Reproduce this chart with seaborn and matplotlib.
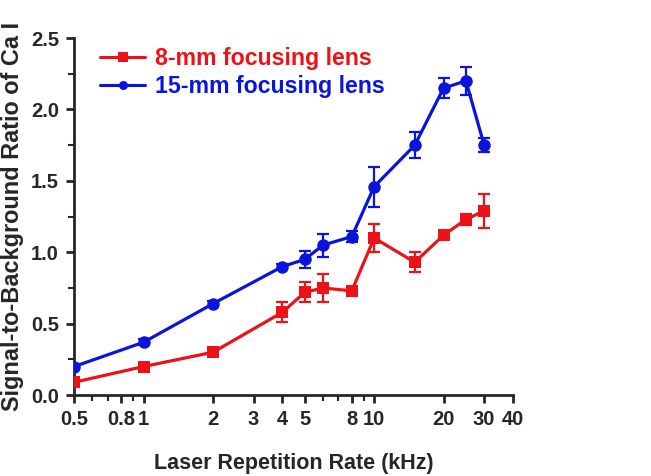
import matplotlib
matplotlib.use("Agg")
import matplotlib.pyplot as plt
import matplotlib.ticker as mticker
import numpy as np
import pandas as pd
import seaborn as sns

# Repetition rates (kHz)
rate = [0.5, 1, 2, 4, 5, 6, 8, 10, 15, 20, 25, 30]

# Signal-to-background ratio and error for each lens
sbr_8mm = [0.09, 0.20, 0.30, 0.58, 0.72, 0.75, 0.73, 1.10, 0.93, 1.12, 1.23, 1.29]
err_8mm = [0.03, 0.02, 0.02, 0.07, 0.07, 0.10, 0.02, 0.10, 0.07, 0.02, 0.04, 0.12]
sbr_15mm = [0.20, 0.37, 0.64, 0.90, 0.95, 1.05, 1.11, 1.46, 1.75, 2.15, 2.20, 1.75]
err_15mm = [0.02, 0.02, 0.02, 0.02, 0.06, 0.08, 0.04, 0.14, 0.09, 0.07, 0.10, 0.05]

series_names = ["8-mm focusing lens", "15-mm focusing lens"]
series_colors = ["#ec1218", "#0a14dc"]
series_markers = ["s", "o"]

xticks = [0.5, 0.8, 1, 2, 3, 4, 5, 8, 10, 20, 30, 40]
xtick_labels = ["0.5", "0.8", "1", "2", "3", "4", "5", "8", "10", "20", "30", "40"]
yticks = [0.0, 0.5, 1.0, 1.5, 2.0, 2.5]

df = pd.concat([
    pd.DataFrame({"rate": rate, "sbr": sbr_8mm, "err": err_8mm, "lens": series_names[0]}),
    pd.DataFrame({"rate": rate, "sbr": sbr_15mm, "err": err_15mm, "lens": series_names[1]}),
])

sns.set_style("ticks")
plt.rcParams["font.family"] = ["Liberation Sans", "DejaVu Sans"]
plt.rcParams["font.weight"] = "bold"

fig = plt.figure(figsize=(6.51, 4.76), dpi=100)
ax = fig.add_axes([0.114, 0.17, 0.674, 0.75])

sns.lineplot(data=df, x="rate", y="sbr", hue="lens", style="lens",
             palette=dict(zip(series_names, series_colors)),
             markers=dict(zip(series_names, series_markers)),
             dashes=False, linewidth=2.3, markersize=9, markeredgewidth=0,
             ax=ax, legend=False, zorder=3)

for name, color in zip(series_names, series_colors):
    sub = df[df["lens"] == name]
    ax.errorbar(sub["rate"], sub["sbr"], yerr=sub["err"], fmt="none",
                ecolor=color, elinewidth=1.6, capsize=4.5, capthick=1.6, zorder=2)

ax.set_xscale("log")
ax.set_xlim(0.5, 40)
ax.set_ylim(0, 2.5)
ax.xaxis.set_major_locator(mticker.FixedLocator(xticks))
ax.xaxis.set_major_formatter(mticker.FixedFormatter(xtick_labels))
ax.xaxis.set_minor_locator(mticker.FixedLocator([0.6, 0.7, 0.9, 6, 7, 9]))
ax.xaxis.set_minor_formatter(mticker.NullFormatter())
ax.set_yticks(yticks)
ax.yaxis.set_major_formatter(mticker.FormatStrFormatter("%.1f"))
ax.yaxis.set_minor_locator(mticker.MultipleLocator(0.25))

sns.despine(ax=ax)
for side in ["left", "bottom"]:
    ax.spines[side].set_linewidth(2)
ax.tick_params(which="major", direction="out", length=6, width=2, labelsize=14.5, pad=5)
ax.tick_params(which="minor", direction="out", length=4, width=1.5)
for lab in ax.get_xticklabels() + ax.get_yticklabels():
    lab.set_fontweight("bold")

ax.set_xlabel("Laser Repetition Rate (kHz)", fontsize=15.5, fontweight="bold", labelpad=17)
ax.set_ylabel("Signal-to-Background Ratio of Ca I", fontsize=16.9, fontweight="bold", labelpad=5)

handles = [
    plt.Line2D([], [], color=c, marker=m, markersize=6.5, linewidth=2.2, markeredgewidth=0)
    for c, m in zip(series_colors, series_markers)
]
leg = ax.legend(handles, series_names, loc="upper left", bbox_to_anchor=(0.059, 0.975),
                frameon=False, prop={"size": 16.7, "weight": "bold"}, borderpad=0,
                borderaxespad=0, handlelength=1.95, handletextpad=0.43, labelspacing=0.22)
for txt, c in zip(leg.get_texts(), series_colors):
    txt.set_color(c)

fig.savefig("out.png", dpi=100, facecolor="white")
